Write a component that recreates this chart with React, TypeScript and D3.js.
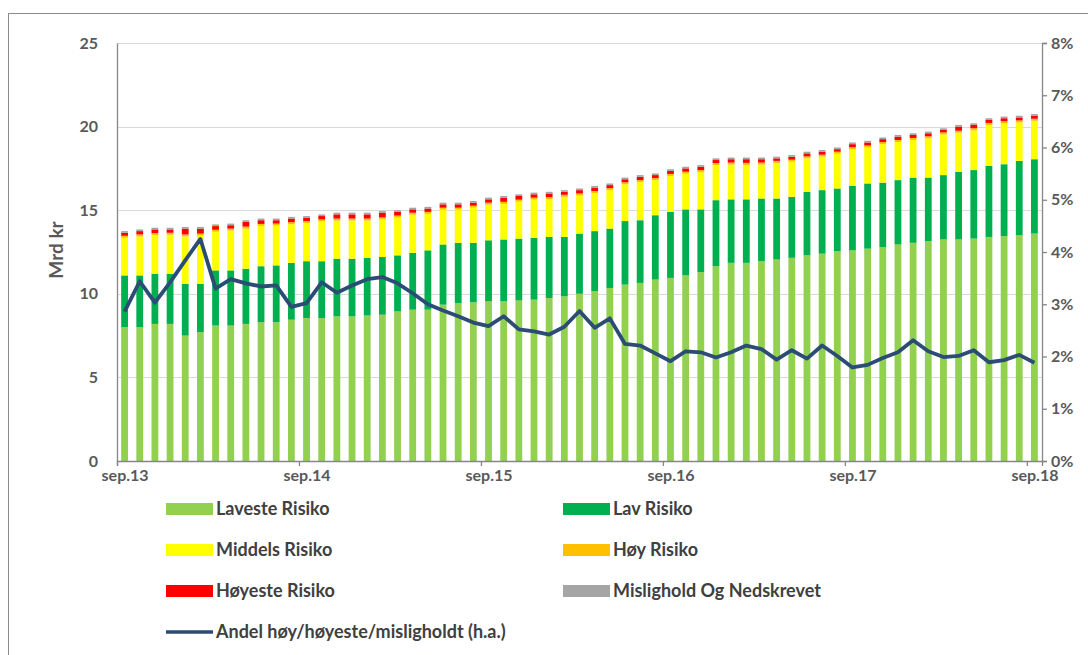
import React, { useEffect, useRef } from 'react';
import * as d3 from 'd3';

// månedlige observasjoner sep.13 - sep.18 (Mrd kr)
const months = d3.range(61);
const tickLabels = ['sep.13', 'sep.14', 'sep.15', 'sep.16', 'sep.17', 'sep.18'];

const laveste = [8.0, 8.0, 8.2, 8.2, 7.5, 7.7, 8.1, 8.1, 8.2, 8.3, 8.3, 8.45, 8.55, 8.55, 8.65, 8.65, 8.7, 8.75, 8.95, 9.05, 9.05, 9.35, 9.45, 9.5, 9.55, 9.55, 9.6, 9.65, 9.75, 9.85, 10.0, 10.15, 10.35, 10.55, 10.65, 10.85, 10.95, 11.1, 11.3, 11.65, 11.85, 11.85, 11.95, 12.05, 12.15, 12.3, 12.4, 12.55, 12.6, 12.7, 12.8, 12.95, 13.05, 13.15, 13.25, 13.25, 13.3, 13.4, 13.45, 13.5, 13.6];
const lav = [3.1, 3.1, 3.0, 3.0, 3.1, 2.9, 3.3, 3.3, 3.3, 3.35, 3.4, 3.4, 3.4, 3.4, 3.45, 3.45, 3.45, 3.45, 3.35, 3.4, 3.55, 3.6, 3.6, 3.55, 3.65, 3.7, 3.7, 3.7, 3.65, 3.55, 3.6, 3.6, 3.55, 3.8, 3.75, 3.85, 3.95, 3.95, 3.75, 3.95, 3.8, 3.8, 3.75, 3.65, 3.65, 3.8, 3.8, 3.75, 3.85, 3.9, 3.85, 3.85, 3.9, 3.8, 3.85, 4.05, 4.1, 4.25, 4.3, 4.45, 4.45];
const middels = [2.25, 2.33, 2.31, 2.33, 2.83, 2.88, 2.31, 2.38, 2.4, 2.41, 2.38, 2.31, 2.28, 2.38, 2.28, 2.28, 2.23, 2.25, 2.26, 2.28, 2.18, 2.08, 1.98, 2.1, 2.13, 2.13, 2.21, 2.28, 2.26, 2.4, 2.28, 2.28, 2.3, 2.2, 2.28, 2.1, 2.15, 2.13, 2.23, 2.1, 2.08, 2.06, 2.03, 2.13, 2.1, 2.0, 2.0, 2.08, 2.2, 2.15, 2.3, 2.28, 2.25, 2.35, 2.43, 2.33, 2.38, 2.45, 2.45, 2.3, 2.3];
const hoy = [0.12, 0.12, 0.12, 0.12, 0.12, 0.12, 0.12, 0.12, 0.12, 0.12, 0.12, 0.12, 0.12, 0.12, 0.12, 0.12, 0.12, 0.12, 0.12, 0.12, 0.12, 0.12, 0.12, 0.12, 0.12, 0.12, 0.12, 0.12, 0.12, 0.12, 0.12, 0.12, 0.12, 0.12, 0.12, 0.12, 0.12, 0.12, 0.12, 0.12, 0.12, 0.12, 0.12, 0.12, 0.12, 0.12, 0.12, 0.12, 0.12, 0.12, 0.12, 0.12, 0.12, 0.12, 0.12, 0.12, 0.12, 0.12, 0.12, 0.12, 0.12];
const hoyeste = [0.18, 0.2, 0.22, 0.2, 0.35, 0.3, 0.22, 0.2, 0.28, 0.22, 0.2, 0.22, 0.2, 0.2, 0.25, 0.25, 0.25, 0.28, 0.22, 0.2, 0.2, 0.2, 0.2, 0.18, 0.2, 0.25, 0.22, 0.2, 0.22, 0.18, 0.2, 0.2, 0.18, 0.18, 0.2, 0.18, 0.18, 0.2, 0.2, 0.18, 0.2, 0.22, 0.2, 0.15, 0.18, 0.18, 0.18, 0.15, 0.18, 0.18, 0.18, 0.2, 0.18, 0.18, 0.15, 0.25, 0.2, 0.18, 0.18, 0.18, 0.18];
const mislighold = [0.1, 0.1, 0.1, 0.1, 0.1, 0.1, 0.1, 0.1, 0.1, 0.1, 0.1, 0.1, 0.1, 0.1, 0.1, 0.1, 0.1, 0.1, 0.1, 0.1, 0.1, 0.1, 0.1, 0.1, 0.1, 0.1, 0.1, 0.1, 0.1, 0.1, 0.1, 0.1, 0.1, 0.1, 0.1, 0.1, 0.1, 0.1, 0.1, 0.1, 0.1, 0.1, 0.1, 0.1, 0.1, 0.1, 0.1, 0.1, 0.1, 0.1, 0.1, 0.1, 0.1, 0.1, 0.1, 0.1, 0.1, 0.1, 0.1, 0.1, 0.1];
// andel høy/høyeste/misligholdt, prosent (h.a.)
const andel = [2.86, 3.44, 3.03, 3.42, 3.84, 4.25, 3.3, 3.48, 3.4, 3.34, 3.36, 2.95, 3.02, 3.42, 3.22, 3.36, 3.48, 3.52, 3.4, 3.21, 3.0, 2.88, 2.77, 2.65, 2.58, 2.77, 2.52, 2.48, 2.42, 2.57, 2.87, 2.55, 2.73, 2.24, 2.21, 2.06, 1.91, 2.1, 2.08, 1.98, 2.08, 2.21, 2.14, 1.94, 2.12, 1.96, 2.21, 2.01, 1.79, 1.84, 1.97, 2.08, 2.31, 2.1, 1.99, 2.01, 2.12, 1.89, 1.93, 2.03, 1.88];

const series = [
  { key: 'laveste', name: 'Laveste Risiko', color: '#92D050', values: laveste },
  { key: 'lav', name: 'Lav Risiko', color: '#00B050', values: lav },
  { key: 'middels', name: 'Middels Risiko', color: '#FFFF00', values: middels },
  { key: 'hoy', name: 'Høy Risiko', color: '#FFC000', values: hoy },
  { key: 'hoyeste', name: 'Høyeste Risiko', color: '#FF0000', values: hoyeste },
  { key: 'misl', name: 'Mislighold Og Nedskrevet', color: '#A5A5A5', values: mislighold },
];

const FONT = 'Lato, "Open Sans", sans-serif';

const App = () => {
  const svgRef = useRef<SVGSVGElement>(null);

  useEffect(() => {
    const width = 1088;
    const height = 655;
    const margin = { top: 43, right: 46, bottom: 194, left: 117 };

    const svg = d3.select(svgRef.current);
    svg.selectAll('*').remove();

    // frame
    svg.append('rect')
    .attr('x', 8.5).attr('y', 13.5)
    .attr('width', width).attr('height', height)
    .attr('fill', 'white')
    .attr('stroke', '#8c8c8c');

    const x = d3.scaleLinear()
    .domain([0, months.length])
    .range([margin.left, width - margin.right]);

    const y = d3.scaleLinear()
    .domain([0, 25])
    .range([height - margin.bottom, margin.top]);

    const y2 = d3.scaleLinear()
    .domain([0, 0.08])
    .range([height - margin.bottom, margin.top]);

    // grid
    svg.append('g')
    .selectAll('line')
    .data([5, 10, 15, 20, 25])
    .join('line')
    .attr('x1', margin.left)
    .attr('x2', width - margin.right)
    .attr('y1', d => Math.round(y(d)) + 0.5)
    .attr('y2', d => Math.round(y(d)) + 0.5)
    .attr('stroke', '#d9d9d9');

    // stacked bars
    const table = months.map(i => {
      const row: any = { i };
      series.forEach(s => { row[s.key] = s.values[i]; });
      return row;
    });
    const stacked = d3.stack().keys(series.map(s => s.key))(table);
    const barW = 6.8;

    svg.append('g')
    .selectAll('g')
    .data(stacked)
    .join('g')
    .attr('fill', (d, k) => series[k].color)
    .selectAll('rect')
    .data(d => d)
    .join('rect')
    .attr('x', (d, i) => x(i + 0.5) - barW / 2)
    .attr('width', barW)
    .attr('y', d => y(d[1]))
    .attr('height', d => y(d[0]) - y(d[1]));

    // axes
    const axisColor = '#868686';
    const labelColor = '#595959';

    const yAxis = svg.append('g')
    .attr('transform', `translate(${margin.left},0)`)
    .call(d3.axisLeft(y).tickValues([0, 5, 10, 15, 20, 25]).tickSize(0).tickPadding(19));

    const y2Axis = svg.append('g')
    .attr('transform', `translate(${width - margin.right},0)`)
    .call(d3.axisRight(y2).tickValues(d3.range(0, 0.081, 0.01)).tickFormat(d3.format('.0%')).tickSize(5).tickPadding(4));

    const xAxis = svg.append('g')
    .attr('transform', `translate(0,${height - margin.bottom})`)
    .call(d3.axisBottom(x).tickValues([0, 12, 24, 36, 48, 60]).tickFormat(() => '').tickSize(5));

    // x labels sit in the middle of the month
    xAxis.selectAll('.tick')
    .append('text')
    .attr('x', x(0.5) - x(0))
    .attr('y', 9)
    .attr('dy', '0.71em')
    .attr('text-anchor', 'middle')
    .text((d, i) => tickLabels[i]);

    [yAxis, y2Axis, xAxis].forEach(a => {
      a.select('.domain').attr('stroke', axisColor).attr('stroke-width', 1.3);
      a.selectAll('.tick line').attr('stroke', axisColor).attr('stroke-width', 1.3);
      a.selectAll('.tick text')
      .attr('fill', labelColor)
      .attr('font-family', FONT)
      .attr('font-weight', 700)
      .attr('font-size', 16);
    });

    svg.append('text')
    .attr('transform', 'rotate(-90)')
    .attr('x', -250)
    .attr('y', 63)
    .attr('text-anchor', 'middle')
    .attr('fill', labelColor)
    .attr('font-family', FONT)
    .attr('font-weight', 700)
    .attr('font-size', 19)
    .text('Mrd kr');

    // line (h.a.)
    const line = d3.line<number>()
    .x((d, i) => x(i + 0.5))
    .y(d => y2(d / 100));

    svg.append('path')
    .datum(andel)
    .attr('d', line)
    .attr('fill', 'none')
    .attr('stroke', '#2B4C74')
    .attr('stroke-width', 3.8)
    .attr('stroke-linejoin', 'round');

    // legend
    const legendItems = [
      ...series.map(s => ({ name: s.name, color: s.color, type: 'bar' })),
      { name: 'Andel høy/høyeste/misligholdt (h.a.)', color: '#2B4C74', type: 'line' },
    ];
    const legend = svg.append('g')
    .selectAll('g')
    .data(legendItems)
    .join('g')
    .attr('transform', (d, i) => `translate(${i % 2 === 0 ? 166 : 563},${509 + Math.floor(i / 2) * 41})`);

    legend.filter(d => d.type === 'bar')
    .append('rect')
    .attr('x', 0).attr('y', -6)
    .attr('width', 47).attr('height', 12)
    .attr('fill', d => d.color);

    legend.filter(d => d.type === 'line')
    .append('line')
    .attr('x1', 0).attr('x2', 47)
    .attr('stroke', d => d.color)
    .attr('stroke-width', 3.5);

    legend.append('text')
    .attr('x', 50)
    .attr('dy', '0.35em')
    .attr('fill', '#404040')
    .attr('font-family', FONT)
    .attr('font-weight', 700)
    .attr('font-size', 18)
    .text(d => d.name);
  }, []);

  return (
    <svg ref={svgRef} width={1088} height={655} style={{ position: 'absolute', left: 0, top: 0 }} />
  );
};

export default App;
